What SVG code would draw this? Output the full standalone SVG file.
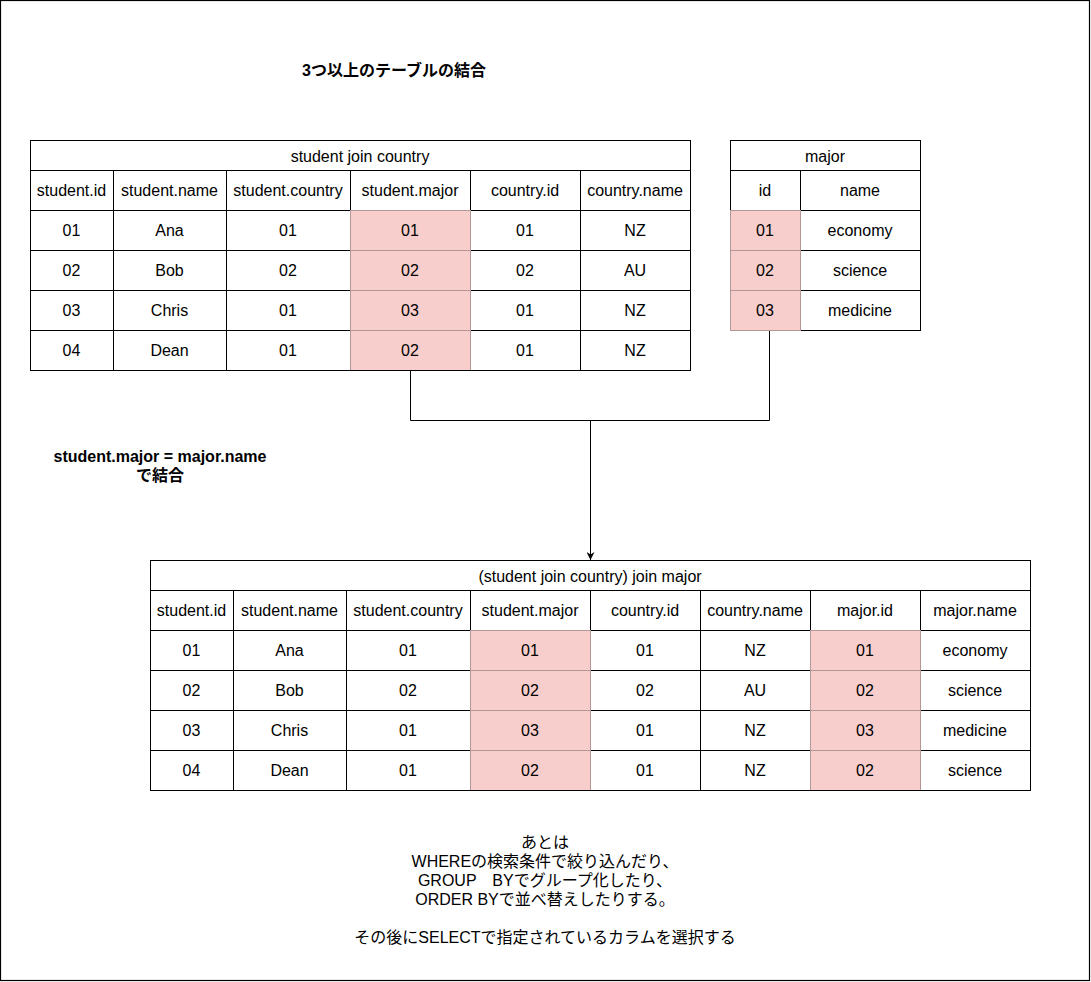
<svg xmlns="http://www.w3.org/2000/svg" width="1091" height="982" viewBox="0 0 1091 982">
<style>
text{font-family:"Liberation Sans","Noto Sans CJK JP",sans-serif;font-size:16px;fill:#000;text-anchor:middle}
.b{font-weight:bold}
.cell{fill:#fff;stroke:#000;stroke-width:1}
.pink{fill:#f8cecc;stroke:#b39696;stroke-width:1}
.frame{fill:none;stroke:#000;stroke-width:1}
.conn{fill:none;stroke:#000;stroke-width:1}
</style>
<defs>
<marker id="arr" viewBox="0 0 10 10" refX="10" refY="5" markerWidth="8" markerHeight="8" markerUnits="userSpaceOnUse" orient="auto">
<path d="M0,0 L10,5 L0,10 L3,5 z" fill="#000"/>
</marker>
</defs>
<rect x="0" y="0" width="1091" height="982" fill="#fff"/>
<rect x="0.5" y="0.5" width="1089" height="980" fill="none" stroke="#000" stroke-width="1.2"/>

<g id="title"><text class="b" x="394" y="76">3つ以上のテーブルの結合</text></g>

<g id="table-student-join-country">
<rect class="cell" x="30.5" y="140.5" width="660" height="30"/>
<text x="360" y="162">student join country</text>
<g>
<rect class="cell" x="30.5" y="170.5" width="83" height="40"/>
<rect class="cell" x="113.5" y="170.5" width="113" height="40"/>
<rect class="cell" x="226.5" y="170.5" width="124" height="40"/>
<rect class="cell" x="350.5" y="170.5" width="120" height="40"/>
<rect class="cell" x="470.5" y="170.5" width="110" height="40"/>
<rect class="cell" x="580.5" y="170.5" width="110" height="40"/>
<rect class="cell" x="30.5" y="210.5" width="83" height="160"/>
<rect class="cell" x="113.5" y="210.5" width="113" height="160"/>
<rect class="cell" x="226.5" y="210.5" width="124" height="160"/>
<rect class="cell" x="470.5" y="210.5" width="110" height="160"/>
<rect class="cell" x="580.5" y="210.5" width="110" height="160"/>
<path class="frame" d="M30.5,250.5H350.5M470.5,250.5H690.5M30.5,290.5H350.5M470.5,290.5H690.5M30.5,330.5H350.5M470.5,330.5H690.5"/>
<rect class="pink" x="350.5" y="210.5" width="120" height="40"/>
<rect class="pink" x="350.5" y="250.5" width="120" height="40"/>
<rect class="pink" x="350.5" y="290.5" width="120" height="40"/>
<rect class="pink" x="350.5" y="330.5" width="120" height="40"/>
<path class="frame" d="M30.5,370.5H690.5"/>
</g>
<text x="71.5" y="196">student.id</text><text x="169.5" y="196">student.name</text><text x="288" y="196">student.country</text><text x="410" y="196">student.major</text><text x="525" y="196">country.id</text><text x="635" y="196">country.name</text>
<text x="71.5" y="236">01</text><text x="169.5" y="236">Ana</text><text x="288" y="236">01</text><text x="410" y="236">01</text><text x="525" y="236">01</text><text x="635" y="236">NZ</text>
<text x="71.5" y="276">02</text><text x="169.5" y="276">Bob</text><text x="288" y="276">02</text><text x="410" y="276">02</text><text x="525" y="276">02</text><text x="635" y="276">AU</text>
<text x="71.5" y="316">03</text><text x="169.5" y="316">Chris</text><text x="288" y="316">01</text><text x="410" y="316">03</text><text x="525" y="316">01</text><text x="635" y="316">NZ</text>
<text x="71.5" y="356">04</text><text x="169.5" y="356">Dean</text><text x="288" y="356">01</text><text x="410" y="356">02</text><text x="525" y="356">01</text><text x="635" y="356">NZ</text>
</g>

<g id="table-major">
<rect class="cell" x="730.5" y="140.5" width="190" height="30"/>
<text x="825" y="162">major</text>
<rect class="cell" x="730.5" y="170.5" width="70" height="40"/>
<rect class="cell" x="800.5" y="170.5" width="120" height="40"/>
<rect class="cell" x="800.5" y="210.5" width="120" height="40"/>
<rect class="cell" x="800.5" y="250.5" width="120" height="40"/>
<rect class="cell" x="800.5" y="290.5" width="120" height="40"/>
<rect class="pink" x="730.5" y="210.5" width="70" height="40"/>
<rect class="pink" x="730.5" y="250.5" width="70" height="40"/>
<rect class="pink" x="730.5" y="290.5" width="70" height="40"/>
<text x="765" y="196">id</text><text x="860" y="196">name</text>
<text x="765" y="236">01</text><text x="860" y="236">economy</text>
<text x="765" y="276">02</text><text x="860" y="276">science</text>
<text x="765" y="316">03</text><text x="860" y="316">medicine</text>
</g>

<g id="connectors">
<path class="conn" d="M410.5,371V420.5H769.5V331"/>
<path class="conn" d="M590.5,420.5V560" marker-end="url(#arr)"/>
</g>

<g id="join-label">
<text class="b" x="160" y="462">student.major = major.name</text>
<text class="b" x="160" y="481">で結合</text>
</g>

<g id="table-result">
<rect class="cell" x="150.5" y="560.5" width="880" height="30"/>
<text x="590" y="582">(student join country) join major</text>
<rect class="cell" x="150.5" y="590.5" width="83" height="40"/>
<rect class="cell" x="233.5" y="590.5" width="113" height="40"/>
<rect class="cell" x="346.5" y="590.5" width="124" height="40"/>
<rect class="cell" x="470.5" y="590.5" width="120" height="40"/>
<rect class="cell" x="590.5" y="590.5" width="110" height="40"/>
<rect class="cell" x="700.5" y="590.5" width="110" height="40"/>
<rect class="cell" x="810.5" y="590.5" width="110" height="40"/>
<rect class="cell" x="920.5" y="590.5" width="110" height="40"/>
<rect class="cell" x="150.5" y="630.5" width="83" height="160"/>
<rect class="cell" x="233.5" y="630.5" width="113" height="160"/>
<rect class="cell" x="346.5" y="630.5" width="124" height="160"/>
<rect class="cell" x="590.5" y="630.5" width="110" height="160"/>
<rect class="cell" x="700.5" y="630.5" width="110" height="160"/>
<rect class="cell" x="920.5" y="630.5" width="110" height="160"/>
<path class="frame" d="M150.5,670.5H470.5M590.5,670.5H810.5M920.5,670.5H1030.5M150.5,710.5H470.5M590.5,710.5H810.5M920.5,710.5H1030.5M150.5,750.5H470.5M590.5,750.5H810.5M920.5,750.5H1030.5"/>
<rect class="pink" x="470.5" y="630.5" width="120" height="40"/>
<rect class="pink" x="470.5" y="670.5" width="120" height="40"/>
<rect class="pink" x="470.5" y="710.5" width="120" height="40"/>
<rect class="pink" x="470.5" y="750.5" width="120" height="40"/>
<rect class="pink" x="810.5" y="630.5" width="110" height="40"/>
<rect class="pink" x="810.5" y="670.5" width="110" height="40"/>
<rect class="pink" x="810.5" y="710.5" width="110" height="40"/>
<rect class="pink" x="810.5" y="750.5" width="110" height="40"/>
<path class="frame" d="M150.5,790.5H1030.5"/>
<text x="191.5" y="616">student.id</text><text x="289.5" y="616">student.name</text><text x="408" y="616">student.country</text><text x="530" y="616">student.major</text><text x="645" y="616">country.id</text><text x="755" y="616">country.name</text><text x="865" y="616">major.id</text><text x="975" y="616">major.name</text>
<text x="191.5" y="656">01</text><text x="289.5" y="656">Ana</text><text x="408" y="656">01</text><text x="530" y="656">01</text><text x="645" y="656">01</text><text x="755" y="656">NZ</text><text x="865" y="656">01</text><text x="975" y="656">economy</text>
<text x="191.5" y="696">02</text><text x="289.5" y="696">Bob</text><text x="408" y="696">02</text><text x="530" y="696">02</text><text x="645" y="696">02</text><text x="755" y="696">AU</text><text x="865" y="696">02</text><text x="975" y="696">science</text>
<text x="191.5" y="736">03</text><text x="289.5" y="736">Chris</text><text x="408" y="736">01</text><text x="530" y="736">03</text><text x="645" y="736">01</text><text x="755" y="736">NZ</text><text x="865" y="736">03</text><text x="975" y="736">medicine</text>
<text x="191.5" y="776">04</text><text x="289.5" y="776">Dean</text><text x="408" y="776">01</text><text x="530" y="776">02</text><text x="645" y="776">01</text><text x="755" y="776">NZ</text><text x="865" y="776">02</text><text x="975" y="776">science</text>
</g>

<g id="note">
<text x="545" y="848">あとは</text>
<text x="545" y="867">WHEREの検索条件で絞り込んだり、</text>
<text x="545" y="886">GROUP　BYでグループ化したり、</text>
<text x="545" y="905">ORDER BYで並べ替えしたりする。</text>
<text x="545" y="943">その後にSELECTで指定されているカラムを選択する</text>
</g>
</svg>
